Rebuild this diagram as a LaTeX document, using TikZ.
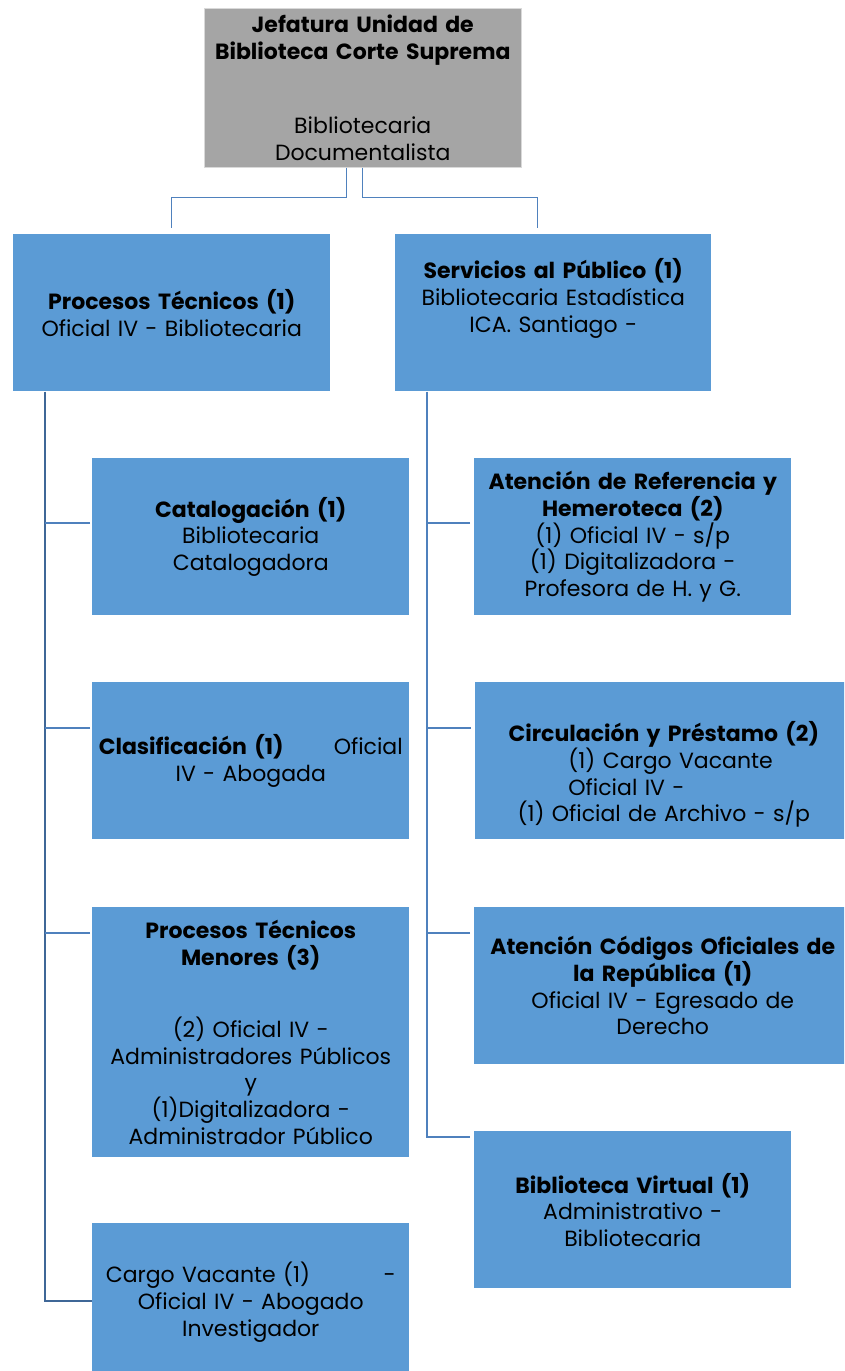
\documentclass[tikz,border=0pt]{standalone}
\usepackage{fontspec}
\setmainfont{Poppins}
\definecolor{unitblue}{RGB}{91,155,213}
\definecolor{headgray}{RGB}{165,165,165}
\definecolor{linkblue}{RGB}{79,129,189}
\tikzset{
  unit/.style={rectangle, fill=unitblue, inner sep=0pt, anchor=north west,
    align=center, font=\fontsize{16.5}{20}\selectfont,
    minimum width=317*0.75pt, minimum height=157*0.75pt, text width=304*0.75pt},
  wideunit/.style={unit, minimum width=377*0.75pt, text width=364*0.75pt},
  link/.style={draw=linkblue, line width=0.8pt},
  trunk/.style={draw=linkblue!80!black, line width=1.5pt}
}
\begin{document}
\begin{tikzpicture}[x=0.75pt,y=-0.75pt]
\useasboundingbox (0,0) rectangle (844,1371);
\clip (0,0) rectangle (844,1371);
% head
\node[unit, fill=headgray, draw=black!15, minimum height=159*0.75pt] (head) at (204,8)
  {\textbf{Jefatura Unidad de}\\\textbf{Biblioteca Corte Suprema}\\[36pt]Bibliotecaria\\Documentalista};
% second level
\node[unit] (proc) at (13,234) {\textbf{Procesos Técnicos (1)}\\Oficial IV - Bibliotecaria};
\node[unit, minimum width=316*0.75pt] (serv) at (395,234)
  {\textbf{Servicios al Público (1)}\\Bibliotecaria Estadística\\ICA. Santiago -\\\strut};
% left column
\node[unit] (cat) at (92,458) {\textbf{Catalogación (1)}\\Bibliotecaria\\Catalogadora};
\node[unit] (clas) at (92,682) {\textbf{Clasificación (1)}\hfill Oficial\\IV - Abogada};
\node[unit, minimum height=250*0.75pt] (ptm) at (92,907)
  {\textbf{Procesos Técnicos}\\\textbf{Menores (3)}\\[34pt](2) Oficial IV -\\Administradores Públicos\\y\\(1)Digitalizadora -\\Administrador Público};
\node[unit, minimum height=158*0.75pt, text width=290*0.75pt] (vac) at (92,1223)
  {Cargo Vacante (1)\hfill -\\Oficial IV - Abogado\\Investigador};
% right column
\node[unit] (ref) at (474,458)
  {\textbf{Atención de Referencia y}\\\textbf{Hemeroteca (2)}\\(1) Oficial IV - s/p\\(1) Digitalizadora -\\Profesora de H. y G.};
\node[wideunit] (circ) at (475,682)
  {\strut\\\textbf{Circulación y Préstamo (2)}\\\makebox[143pt][l]{(1) Cargo Vacante}\\\makebox[143pt][l]{Oficial IV -}\\(1) Oficial de Archivo - s/p};
\node[wideunit] (cod) at (474,907)
  {\textbf{Atención Códigos Oficiales de}\\\textbf{la República (1)}\\Oficial IV - Egresado de\\Derecho};
\node[unit] (virt) at (474,1131) {\textbf{Biblioteca Virtual (1)}\\Administrativo -\\Bibliotecaria};
% connectors
\draw[link] ([xshift=-12pt]head.south) -- ++(0,30) -| ([yshift=4.5pt]proc.north);
\draw[link] (head.south) -- ++(0,30) -| ([xshift=-12pt,yshift=4.5pt]serv.north);
\draw[trunk] ([xshift=24pt]proc.south west) |- ([shift={(0,78)}]vac.north west);
\foreach \n/\dy in {cat/65, clas/46, ptm/26}
  \draw[link] ([shift={(-2,\dy)}]\n.north west) -- ++(-45,0);
\draw[link] ([xshift=24pt]serv.south west) |- ([shift={(-4,6)}]virt.north west);
\foreach \n/\dy in {ref/65, circ/46, cod/26}
  \draw[link] ([shift={(-4,\dy)}]\n.north west) -- ++(-43,0);
\end{tikzpicture}
\end{document}
